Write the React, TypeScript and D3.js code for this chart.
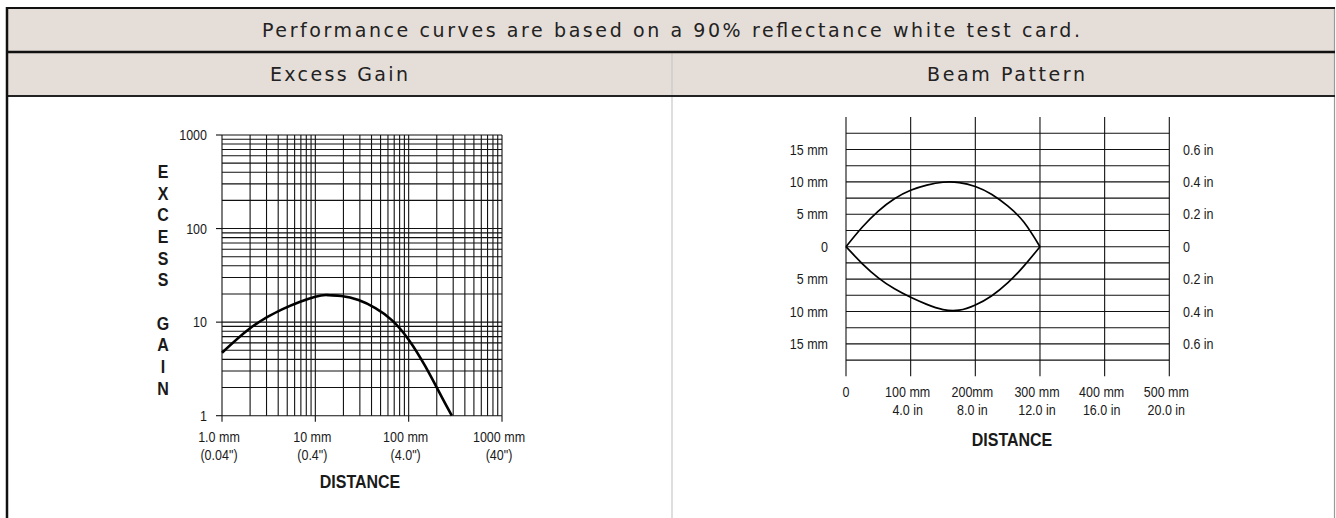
import React from 'react';
import * as d3 from 'd3';

// ---------- Data ----------
const headerTitle = 'Performance curves are based on a 90% reflectance white test card.';
const panelTitles = ['Excess Gain', 'Beam Pattern'];

// Excess gain (log-log)
const gainDistanceMm = [1, 2, 4.4, 10, 14, 19, 29, 44, 66, 100, 150, 225, 290];
const gainValues = [4.7, 8.6, 13.7, 18.7, 19.4, 19.0, 17.2, 14.1, 10.5, 6.5, 3.4, 1.6, 1];
const gainXTicks = [1, 10, 100, 1000];
const gainXTickMm = ['1.0 mm', '10 mm', '100 mm', '1000 mm'];
const gainXTickIn = ['(0.04")', '(0.4")', '(4.0")', '(40")'];
const gainYTicks = [1, 10, 100, 1000];
const gainYTickLabels = ['1', '10', '100', '1000'];
const gainYTitle = ['E', 'X', 'C', 'E', 'S', 'S', '', 'G', 'A', 'I', 'N'];

// Beam pattern (linear)
const beamDistanceMm = [0, 25, 50, 75, 100, 125, 150, 175, 200, 225, 250, 275, 300];
const beamUpperMm = [0, 3.0, 5.5, 7.4, 8.7, 9.5, 9.95, 9.9, 9.3, 8.1, 6.3, 3.8, 0];
const beamLowerMm = [0, -2.6, -4.8, -6.5, -7.8, -8.9, -9.7, -9.8, -9.0, -7.6, -5.6, -3.0, 0];
const beamXTicks = [0, 100, 200, 300, 400, 500];
const beamXTopLabels = ['0', '100 mm', '200mm', '300 mm', '400 mm', '500 mm'];
const beamXBottomLabels = ['', '4.0 in', '8.0 in', '12.0 in', '16.0 in', '20.0 in'];
const beamYTicks = [15, 10, 5, 0, -5, -10, -15];
const beamYLeftLabels = ['15 mm', '10 mm', '5 mm', '0', '5 mm', '10 mm', '15 mm'];
const beamYRightLabels = ['0.6 in', '0.4 in', '0.2 in', '0', '0.2 in', '0.4 in', '0.6 in'];

// ---------- Layout ----------
const W = 1336;
const H = 518;
const CHART_FONT = '"Liberation Sans", Arial, Helvetica, sans-serif';
const HEAD_FONT = '"DejaVu Sans", Verdana, sans-serif';
const INK = '#1a1a1a';
const GRID = '#111';

type TProps = {
  x: number;
  y: number;
  anchor?: 'start' | 'middle' | 'end';
  size?: number;
  bold?: boolean;
  sy?: number;
  children: React.ReactNode;
};
const T = ({ x, y, anchor = 'middle', size = 12.5, bold = false, sy = 1.15, children }: TProps) => (
  <text
    transform={`translate(${x},${y}) scale(1,${sy})`}
    textAnchor={anchor}
    dy="0.35em"
    fontFamily={CHART_FONT}
    fontSize={size}
    fontWeight={bold ? 700 : 400}
    fill={INK}
  >
    {children}
  </text>
);

function ExcessGain() {
  const x = d3.scaleLog().domain([1, 1000]).range([222, 502]);
  const y = d3.scaleLog().domain([1, 1000]).range([415.7, 135]);
  const grid = x.ticks();
  const hgrid = y.ticks();
  const line = d3
    .line<number>()
    .x((d, i) => x(gainDistanceMm[i]))
    .y((d) => y(d))
    .curve(d3.curveNatural);
  const [x0, x1] = x.range();
  const [y0, y1] = y.range();
  return (
    <g>
      {grid.map((v) => (
        <line key={'v' + v} x1={x(v)} x2={x(v)} y1={y1} y2={y0} stroke={GRID} strokeWidth={1.1} />
      ))}
      {hgrid.map((v) => (
        <line key={'h' + v} x1={x0} x2={x1} y1={y(v)} y2={y(v)} stroke={GRID} strokeWidth={1.1} />
      ))}
      {gainYTicks.map((v) => (
        <line key={'yt' + v} x1={x0 - 6} x2={x0} y1={y(v)} y2={y(v)} stroke={GRID} strokeWidth={1.1} />
      ))}
      {gainXTicks.map((v) => (
        <line key={'xt' + v} x1={x(v)} x2={x(v)} y1={y0} y2={y0 + 6} stroke={GRID} strokeWidth={1.1} />
      ))}
      <path d={line(gainValues) || ''} fill="none" stroke="#000" strokeWidth={2.6} />
      {gainYTicks.map((v, i) => (
        <T key={'yl' + v} x={207} y={y(v)} anchor="end">
          {gainYTickLabels[i]}
        </T>
      ))}
      {gainXTicks.map((v, i) => (
        <g key={'xl' + v}>
          <T x={x(v) - 3} y={437}>{gainXTickMm[i]}</T>
          <T x={x(v) - 3} y={455}>{gainXTickIn[i]}</T>
        </g>
      ))}
      <T x={360} y={482} size={16} bold>
        DISTANCE
      </T>
      {gainYTitle.map((c, i) =>
        c ? (
          <T key={'gt' + i} x={163} y={171.7 + i * 21.65} size={16} bold>
            {c}
          </T>
        ) : null
      )}
    </g>
  );
}

function BeamPattern() {
  const x = d3.scaleLinear().domain([0, 500]).range([846, 1169.3]);
  const y = d3.scaleLinear().domain([-20, 20]).range([376.3, 117.1]);
  const hgrid = d3.range(-17.5, 17.6, 2.5);
  const line = d3
    .line<number>()
    .x((d, i) => x(beamDistanceMm[i]))
    .y((d) => y(d))
    .curve(d3.curveNatural);
  return (
    <g>
      {hgrid.map((v) => (
        <line key={'h' + v} x1={x(0)} x2={x(500)} y1={y(v)} y2={y(v)} stroke={GRID} strokeWidth={1.1} />
      ))}
      {beamXTicks.map((v) => (
        <line key={'v' + v} x1={x(v)} x2={x(v)} y1={y(20)} y2={y(-20)} stroke={GRID} strokeWidth={1.1} />
      ))}
      <path d={line(beamUpperMm) || ''} fill="none" stroke="#000" strokeWidth={1.7} />
      <path d={line(beamLowerMm) || ''} fill="none" stroke="#000" strokeWidth={1.7} />
      {beamYTicks.map((v, i) => (
        <g key={'yl' + i}>
          <T x={828} y={y(v)} anchor="end">{beamYLeftLabels[i]}</T>
          <T x={1183} y={y(v)} anchor="start">{beamYRightLabels[i]}</T>
        </g>
      ))}
      {beamXTicks.map((v, i) => (
        <g key={'xl' + v}>
          <T x={x(v) - (i ? 3 : 0)} y={392}>{beamXTopLabels[i]}</T>
          {beamXBottomLabels[i] ? <T x={x(v) - 3} y={410}>{beamXBottomLabels[i]}</T> : null}
        </g>
      ))}
      <T x={1012} y={440} size={16} bold>
        DISTANCE
      </T>
    </g>
  );
}

const HeadText = ({ x, y, len, children }: { x: number; y: number; len: number; children: React.ReactNode }) => (
  <text
    x={x}
    y={y}
    dy="0.36em"
    textAnchor="middle"
    fontFamily={HEAD_FONT}
    fontSize={19}
    fill="#222"
    textLength={len}
    lengthAdjust="spacing"
  >
    {children}
  </text>
);

export default function App() {
  return (
    <svg
      width={W}
      height={H}
      viewBox={`0 0 ${W} ${H}`}
      style={{ position: 'absolute', left: 0, top: 0, background: '#fff' }}
    >
      <rect x={0} y={0} width={W} height={H} fill="#fff" />
      {/* table header */}
      <rect x={7} y={8} width={1327} height={88} fill="#e5ddd7" />
      <line x1={672} x2={672} y1={52} y2={H} stroke="#c8c8c8" strokeWidth={1.2} />
      <line x1={1334.5} x2={1334.5} y1={8} y2={H} stroke="#9a9a9a" strokeWidth={1.2} />
      <line x1={6} x2={1335} y1={8} y2={8} stroke="#111" strokeWidth={2} />
      <line x1={6} x2={1335} y1={52} y2={52} stroke="#111" strokeWidth={2.5} />
      <line x1={6} x2={1335} y1={96} y2={96} stroke="#222" strokeWidth={2.2} />
      <line x1={7} x2={7} y1={7} y2={H} stroke="#111" strokeWidth={2.5} />
      <HeadText x={671} y={30} len={818}>
        {headerTitle}
      </HeadText>
      <HeadText x={339} y={74} len={138}>
        {panelTitles[0]}
      </HeadText>
      <HeadText x={1006} y={74} len={158}>
        {panelTitles[1]}
      </HeadText>
      <ExcessGain />
      <BeamPattern />
    </svg>
  );
}
